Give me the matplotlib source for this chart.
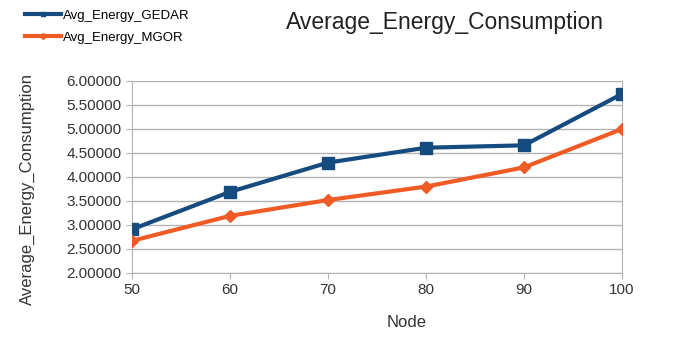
import matplotlib
matplotlib.use("Agg")
import matplotlib.pyplot as plt
from matplotlib.lines import Line2D

nodes = [50, 60, 70, 80, 90, 100]
gedar = [2.91, 3.69, 4.30, 4.61, 4.66, 5.73]
mgor = [2.67, 3.19, 3.52, 3.80, 4.20, 5.00]
yticks = [2.0, 2.5, 3.0, 3.5, 4.0, 4.5, 5.0, 5.5, 6.0]

plt.rcParams['font.family'] = ['Liberation Sans', 'DejaVu Sans']

blue = '#154b7e'
orange = '#ef5b24'

fig = plt.figure(figsize=(6.86, 3.38), dpi=100)
ax = fig.add_axes([132/686, 1-273/338, (622-132)/686, (273-81)/338])

ax.plot(nodes, gedar, color=blue, lw=3, marker='s', ms=8, zorder=3)
ax.plot(nodes, mgor, color=orange, lw=3, marker='D', ms=6, zorder=3)

ax.set_xlim(50, 100)
ax.set_ylim(2.0, 6.0)
ax.set_xticks(nodes)
ax.set_yticks(yticks)
ax.set_yticklabels([f"{v:.5f}" for v in yticks])
ax.grid(axis='y', color='#b3b3b3', lw=1)
ax.set_axisbelow(True)
ax.spines['top'].set_visible(False)
for s in ['left', 'bottom', 'right']:
    ax.spines[s].set_color('#b3b3b3')
ax.tick_params(axis='both', colors='#b3b3b3', labelcolor='#333333', labelsize=11, length=4)
ax.set_xlabel('Node', fontsize=12, color='#333333')
ax.xaxis.set_label_coords((407-132)/490, -(315-273)/192)
ax.set_ylabel('Average_Energy_Consumption', fontsize=12, color='#333333')
ax.yaxis.set_label_coords(-(132-27)/490, (273-189)/192)
ax.yaxis.label.set_va('center')
fig.text(445/686, 1-22/338, 'Average_Energy_Consumption', fontsize=16.5, ha='center', va='center', color='#222222')

h1 = Line2D([], [], color=blue, lw=3, marker='s', ms=3)
h2 = Line2D([], [], color=orange, lw=3, marker='D', ms=3)
fig.legend(handles=[h1, h2], labels=['Avg_Energy_GEDAR', 'Avg_Energy_MGOR'],
           loc='upper left', bbox_to_anchor=(20/686, 1-4/338), frameon=False,
           fontsize=9.5, handlelength=2.7, labelspacing=0.75, borderaxespad=0.0, handletextpad=0.15)

fig.savefig('out.png', dpi=100)
